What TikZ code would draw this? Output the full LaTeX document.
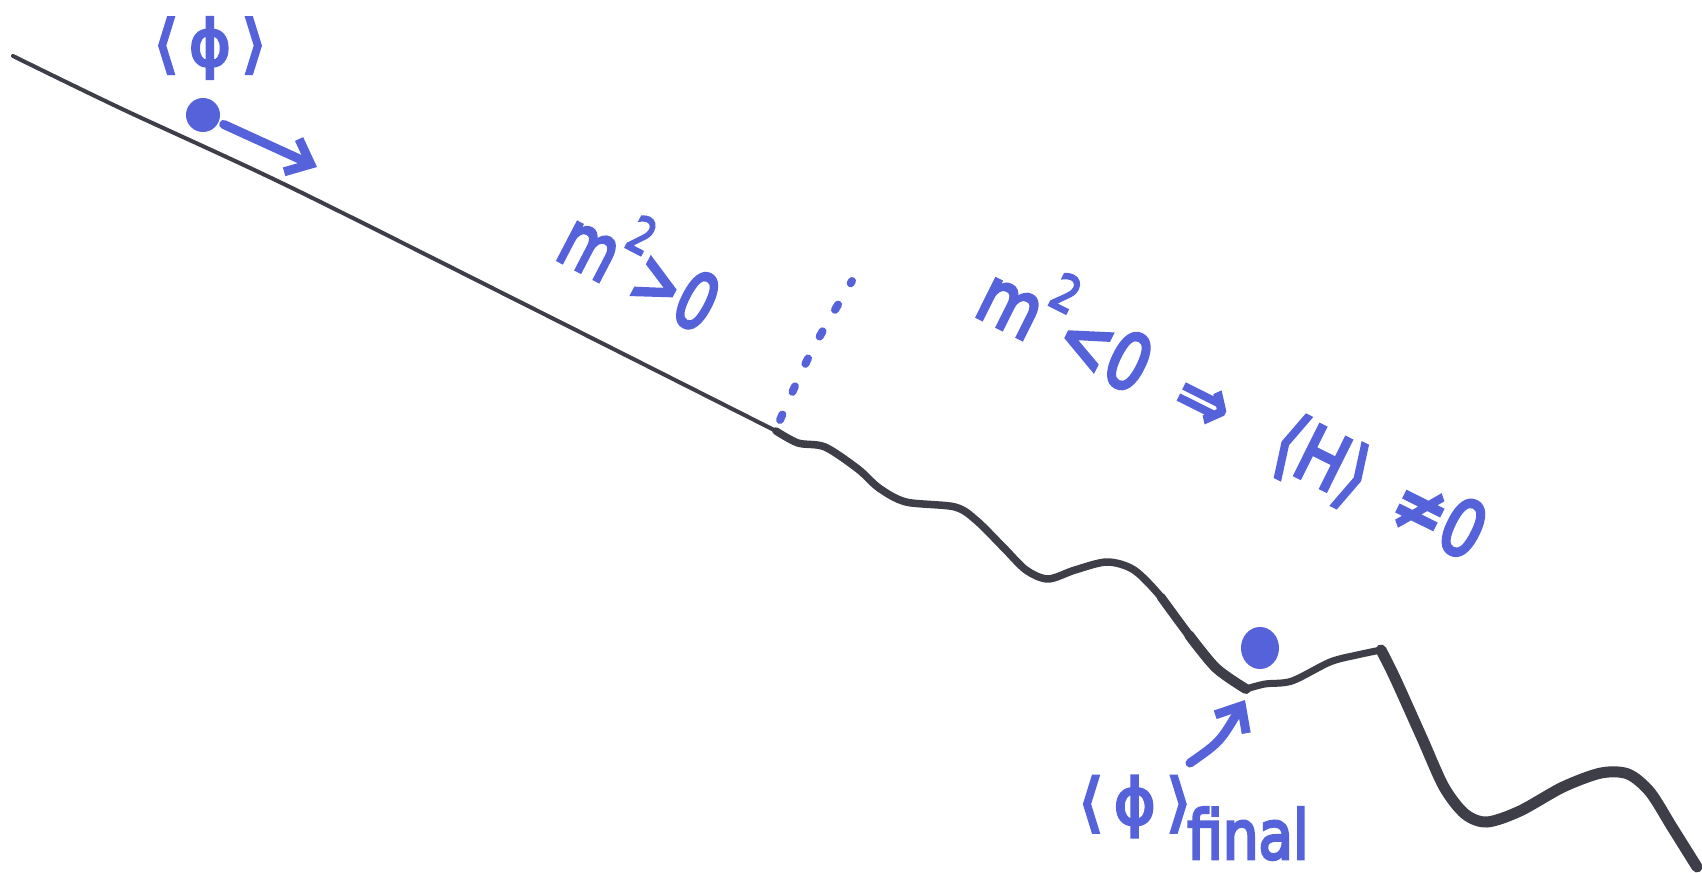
\documentclass[tikz,border=0pt]{standalone}
\usepackage{graphicx}
\usepackage{fontspec}
\newfontfamily\hand{DejaVu Sans}[FakeBold=4.5]
\usetikzlibrary{arrows.meta,shapes.geometric}
\definecolor{ink}{RGB}{86,98,218}
\definecolor{slope}{RGB}{62,62,72}
% a raised, fairly large square
\newcommand\sqd{\raisebox{0.55em}{\scalebox{0.65}{2}}}
\tikzset{
  hill/.style={draw=slope, line cap=round, line join=round},
  marker/.style={draw=ink, line width=0.09cm, line cap=round, line join=round},
  barb/.style={-{Straight Barb[length=0.21cm,width=0.36cm]}},
  ball/.style={fill=ink, draw=none, inner sep=0pt},
  note/.style={text=ink, inner sep=0pt, font=\hand\fontsize{22}{26}\selectfont},
  smallnote/.style={text=ink, inner sep=0pt, font=\hand\fontsize{18}{22}\selectfont},
}
\begin{document}
\begin{tikzpicture}[x=0.01cm,y=-0.01cm]
\useasboundingbox (0,0) rectangle (1702,873);

% the potential: gentle slope, then a bumpy descent
\draw[hill, line width=0.04cm] plot[smooth] coordinates
  {(13,56) (120,108) (290,187) (540,312) (776,431)};
\draw[hill, line width=0.075cm] plot[smooth] coordinates
  {(776,431) (798,443) (825,447) (858,469) (879,488) (906,502) (955,507)
   (977,521) (1004,548) (1026,570) (1048,579) (1075,570) (1107,562)
   (1134,570) (1161,597) (1189,635) (1216,668) (1246,689)};
\draw[hill, line width=0.087cm] plot[smooth] coordinates
  {(1161,597) (1189,635) (1216,668) (1246,689)};
\draw[hill, line width=0.10cm] plot[smooth] coordinates
  {(1189,635) (1216,668) (1246,689)};
\draw[hill, line width=0.07cm] plot[smooth] coordinates
  {(1246,689) (1265,684) (1292,681) (1330,662) (1357,655) (1381,650)};
\draw[hill, line width=0.11cm] plot[smooth] coordinates
  {(1381,650) (1395,678) (1422,738) (1444,787) (1465,814) (1487,822)
   (1520,811) (1563,787) (1601,773) (1628,774) (1650,792) (1672,827) (1697,867)};

% the field at the start
\node[smallnote] (vev) at (210,48) {⟨\kern3ptϕ\kern3pt⟩};
\node[ball, circle, minimum size=0.34cm] (ball1) at (203,115) {};
\coordinate (push) at (317,167);
\draw[marker, barb, shorten <=0.05cm] (ball1) -- (push);

% the two regimes
\node[note, rotate=-27.5] (pos) at (645,261) {\scalebox{0.75}[1]{m\sqd>0}};
\coordinate (dotA) at (780,420);
\coordinate (dotB) at (852,281);
\draw[ink, line width=0.08cm, line cap=round, dash pattern=on 0.06cm off 0.248cm]
  (dotA) .. controls (810,352) .. (dotB);
\node[note, rotate=-26.5] (neg) at (1236,407)
  {\scalebox{0.82}[1]{m\sqd<0\hspace{0.6em}⇒\hspace{0.9em}⟨H⟩\hspace{0.55em}≠0}};

% the field at rest
\node[ball, ellipse, minimum width=0.38cm, minimum height=0.42cm] (ball2) at (1260,648) {};
\coordinate (rise) at (1190,763);
\coordinate (rest) at (1245,700);
\draw[marker, barb] (rise) .. controls (1220,742) .. (rest);
\node[smallnote, anchor=base west] (final) at (1078,824)
  {⟨\kern3ptϕ\kern3pt⟩\kern-1pt\raisebox{-0.55em}{\fontsize{16}{18}\selectfont\scalebox{1}[1.2]{final}}};
\end{tikzpicture}
\end{document}
